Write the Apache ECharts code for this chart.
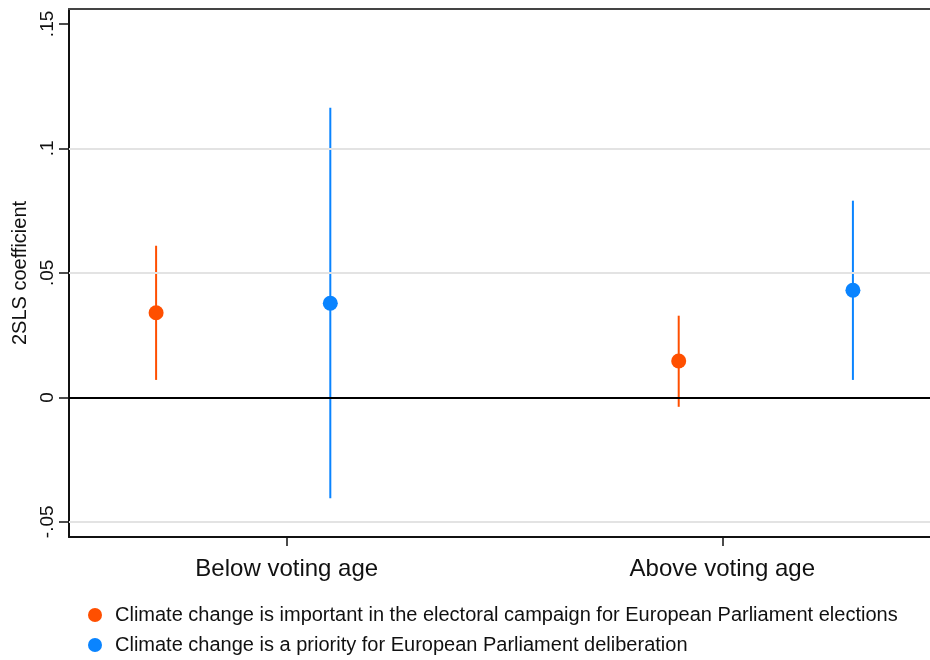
<!DOCTYPE html>
<html><head><meta charset="utf-8">
<script src="https://cdn.jsdelivr.net/npm/echarts@6/dist/echarts.min.js"></script>
<style>html,body{margin:0;padding:0;background:#fff}#c{width:930px;height:660px}</style>
</head><body><div id="c"></div>
<script>
// Data
const categories = ['Below voting age', 'Above voting age'];
const categoryPos = [1, 2];
const seriesNames = [
  'Climate change is important in the electoral campaign for European Parliament elections',
  'Climate change is a priority for European Parliament deliberation'
];
// x positions of each estimate (per series, per category)
const xPosOrange = [0.7, 1.9];
const xPosBlue = [1.1, 2.3];
const estOrange = [0.034, 0.0146];
const loOrange = [0.007, -0.0038];
const hiOrange = [0.0609, 0.0328];
const estBlue = [0.0378, 0.043];
const loBlue = [-0.0405, 0.007];
const hiBlue = [0.1163, 0.079];
const yTicks = [-0.05, 0, 0.05, 0.1, 0.15];
const yTickLabels = ['-.05', '0', '.05', '.1', '.15'];
const gridLines = [-0.05, 0.05, 0.1];

const orange = '#ff4f00';
const blue = '#0a84ff';
const font = 'Liberation Sans, Arial, sans-serif';

function ciData(xs, lo, hi) { return xs.map((x, i) => [x, lo[i], hi[i]]); }
function ptData(xs, v) { return xs.map((x, i) => [x, v[i]]); }
function ciSeries(color, data) {
  return {
    type: 'custom', data: data, z: 3, silent: true,
    encode: { x: 0, y: [1, 2] },
    renderItem: function (params, api) {
      const a = api.coord([api.value(0), api.value(1)]);
      const b = api.coord([api.value(0), api.value(2)]);
      return { type: 'line', shape: { x1: a[0], y1: a[1], x2: b[0], y2: b[1] },
        style: { stroke: color, lineWidth: 2 } };
    }
  };
}
function legendFor(name, top) {
  return {
    orient: 'horizontal', left: 83, top: top, itemWidth: 14, itemHeight: 14,
    icon: 'circle', textStyle: { fontFamily: font, fontSize: 20, color: '#111', padding: [0, 0, 0, 8] },
    data: [name]
  };
}

const chart = echarts.init(document.getElementById('c'));
chart.setOption({
  animation: false,
  grid: { left: 69, right: 0, top: 9, bottom: 123 },
  xAxis: [{
    type: 'value', min: 0.5, max: 2.477,
    axisLine: { show: true, onZero: false, lineStyle: { color: '#111', width: 2 } },
    axisTick: { show: true, customValues: categoryPos, length: 9, lineStyle: { color: '#111', width: 1.5 } },
    axisLabel: { customValues: categoryPos, margin: 20, fontFamily: font, fontSize: 24, color: '#111',
      formatter: v => categories[categoryPos.indexOf(Math.round(v))] || '' },
    splitLine: { show: false }
  }, {
    type: 'value', position: 'top', min: 0.5, max: 2.477,
    axisLine: { show: true, onZero: false, lineStyle: { color: '#444', width: 2 } },
    axisTick: { show: false }, axisLabel: { show: false }, splitLine: { show: false }
  }],
  yAxis: {
    type: 'value', min: -0.0561, max: 0.156,
    name: '2SLS coefficient', nameLocation: 'middle', nameGap: 36, nameRotate: 90,
    nameTextStyle: { fontFamily: font, fontSize: 20, color: '#111' },
    axisLine: { show: true, lineStyle: { color: '#111', width: 2 } },
    axisTick: { show: true, customValues: yTicks, length: 10, lineStyle: { color: '#111', width: 1.5 } },
    axisLabel: { customValues: yTicks, rotate: 90, margin: 12, fontFamily: font, fontSize: 19, color: '#111',
      formatter: v => { const i = yTicks.findIndex(t => Math.abs(t - v) < 1e-9); return i >= 0 ? yTickLabels[i] : ''; } },
    splitLine: { show: false }
  },
  legend: [legendFor(seriesNames[0], 600), legendFor(seriesNames[1], 630)],
  series: [
    {
      type: 'line', data: [], silent: true,
      markLine: { symbol: 'none', silent: true, label: { show: false },
        lineStyle: { color: '#e3e3e3', width: 2, type: 'solid' },
        data: gridLines.map(v => ({ yAxis: v })) }
    },
    {
      type: 'line', data: [], silent: true,
      markLine: { symbol: 'none', silent: true, label: { show: false },
        lineStyle: { color: '#000', width: 2, type: 'solid' },
        data: [{ yAxis: 0 }] }
    },
    ciSeries(orange, ciData(xPosOrange, loOrange, hiOrange)),
    ciSeries(blue, ciData(xPosBlue, loBlue, hiBlue)),
    { name: seriesNames[0], type: 'scatter', z: 4, symbolSize: 15, itemStyle: { color: orange, opacity: 1 },
      data: ptData(xPosOrange, estOrange) },
    { name: seriesNames[1], type: 'scatter', z: 4, symbolSize: 15, itemStyle: { color: blue, opacity: 1 },
      data: ptData(xPosBlue, estBlue) }
  ]
});
</script></body></html>
